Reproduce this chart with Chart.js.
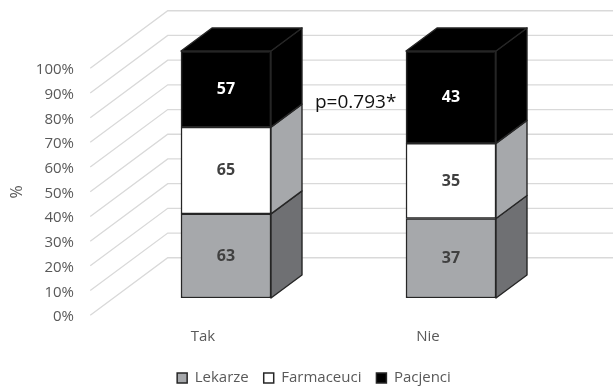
<!DOCTYPE html>
<html>
<head>
<meta charset="utf-8">
<script src="https://cdn.jsdelivr.net/npm/chart.js@4.4.1/dist/chart.umd.min.js"></script>
<style>
html,body{margin:0;padding:0;background:#fff;}
#wrap{width:613px;height:387px;position:relative;}
</style>
</head>
<body>
<div id="wrap"><canvas id="c" width="613" height="387"></canvas></div>
<script>
// ---- data ----
const categories = ['Tak', 'Nie'];
const seriesNames = ['Lekarze', 'Farmaceuci', 'Pacjenci'];
const lekarze = [63, 37];
const farmaceuci = [65, 35];
const pacjenci = [57, 43];
const yTicks = [0, 10, 20, 30, 40, 50, 60, 70, 80, 90, 100];
const annotation = 'p=0.793*';
const yTitle = '%';

// ---- styles ----
const FONT = '"Open Sans", "Noto Sans", sans-serif';
const frontColors = ['#a6a8ab', '#ffffff', '#000000'];
const sideColors = ['#6f7073', '#a6a8ab', '#000000'];
const labelColors = ['#404040', '#404040', '#ffffff'];
const EDGE = '#262626';
const DEPTH = {x: 31, y: -23};

const raw = [lekarze, farmaceuci, pacjenci];
const totals = categories.map((_, i) => raw.reduce((s, arr) => s + arr[i], 0));
const pct = raw.map(arr => arr.map((v, i) => v / totals[i] * 100));

const threeD = {
  id: 'threeD',
  beforeDatasetsDraw(chart) {
    const ctx = chart.ctx, ys = chart.scales.y, L = chart.chartArea.left;
    ctx.save();
    ctx.strokeStyle = '#d9d9d9';
    ctx.lineWidth = 1.3;
    yTicks.forEach(v => {
      const yf = ys.getPixelForValue(v);
      const bx = L + DEPTH.x * 1.75, by = yf + DEPTH.y * 1.75;
      const fx = L - DEPTH.x * 0.75, fy = yf - DEPTH.y * 0.75;
      ctx.beginPath();
      ctx.moveTo(fx, fy); ctx.lineTo(bx, by); ctx.lineTo(chart.width, by);
      ctx.stroke();
    });
    ctx.restore();
  },
  afterDatasetsDraw(chart) {
    const ctx = chart.ctx;
    ctx.save();
    ctx.lineWidth = 1.4;
    ctx.strokeStyle = EDGE;
    ctx.lineJoin = 'round';
    const n = chart.data.datasets.length;
    chart.data.datasets.forEach((ds, di) => {
      const meta = chart.getDatasetMeta(di);
      meta.data.forEach(el => {
        const p = el.getProps(['x', 'y', 'base', 'width'], true);
        const left = p.x - p.width / 2, right = p.x + p.width / 2;
        const top = Math.min(p.y, p.base), bottom = Math.max(p.y, p.base);
        ctx.fillStyle = sideColors[di];
        ctx.beginPath();
        ctx.moveTo(right, top);
        ctx.lineTo(right + DEPTH.x, top + DEPTH.y);
        ctx.lineTo(right + DEPTH.x, bottom + DEPTH.y);
        ctx.lineTo(right, bottom);
        ctx.closePath();
        ctx.fill(); ctx.stroke();
        if (di === n - 1) {
          ctx.fillStyle = frontColors[di];
          ctx.beginPath();
          ctx.moveTo(left, top);
          ctx.lineTo(left + DEPTH.x, top + DEPTH.y);
          ctx.lineTo(right + DEPTH.x, top + DEPTH.y);
          ctx.lineTo(right, top);
          ctx.closePath();
          ctx.fill(); ctx.stroke();
        }
      });
    });
    // data labels
    ctx.font = 'bold 16px ' + FONT;
    ctx.textAlign = 'center';
    ctx.textBaseline = 'middle';
    chart.data.datasets.forEach((ds, di) => {
      const meta = chart.getDatasetMeta(di);
      meta.data.forEach((el, i) => {
        const p = el.getProps(['x', 'y', 'base'], true);
        ctx.fillStyle = labelColors[di];
        ctx.fillText(String(raw[di][i]), p.x, (p.y + p.base) / 2);
      });
    });
    // annotation
    ctx.font = '19px ' + FONT;
    ctx.fillStyle = '#111111';
    ctx.textAlign = 'left';
    ctx.fillText(annotation, 315, 103);
    // y title
    ctx.save();
    ctx.translate(17, 192);
    ctx.rotate(-Math.PI / 2);
    ctx.font = '16px ' + FONT;
    ctx.fillStyle = '#595959';
    ctx.textAlign = 'center';
    ctx.fillText(yTitle, 0, 0);
    ctx.restore();
    ctx.restore();
  }
};

new Chart(document.getElementById('c'), {
  type: 'bar',
  data: {
    labels: categories,
    datasets: seriesNames.map((name, di) => ({
      label: name,
      data: pct[di],
      backgroundColor: frontColors[di],
      borderColor: EDGE,
      borderWidth: 1.5,
      borderSkipped: false,
      barThickness: 90
    }))
  },
  options: {
    responsive: false,
    animation: false,
    layout: {padding: {top: 51, right: 0, left: 15, bottom: 0}},
    plugins: {
      legend: {
        position: 'bottom',
        maxHeight: 31.5,
        labels: {
          font: {size: 15, family: FONT},
          color: '#595959',
          boxWidth: 10,
          boxHeight: 10,
          padding: 15
        }
      },
      tooltip: {enabled: false}
    },
    scales: {
      x: {
        stacked: true,
        grid: {display: false, drawTicks: false},
        border: {display: false},
        ticks: {font: {size: 15, family: FONT}, color: '#595959', padding: 30, labelOffset: -23},
        afterFit: s => { s.height = 57.5; }
      },
      y: {
        stacked: true,
        min: 0, max: 100,
        grid: {display: false, drawTicks: false},
        border: {display: false},
        ticks: {
          stepSize: 10,
          font: {size: 15, family: FONT},
          color: '#595959',
          padding: 39.5,
          labelOffset: 19,
          callback: v => v + '%'
        },
        afterFit: s => { s.width = 98.5; }
      },
      yR: {
        position: 'right',
        display: true,
        grid: {display: false, drawTicks: false},
        border: {display: false},
        ticks: {display: false},
        afterFit: s => { s.width = 49.5; }
      }
    }
  },
  plugins: [threeD]
});
</script>
</body>
</html>
